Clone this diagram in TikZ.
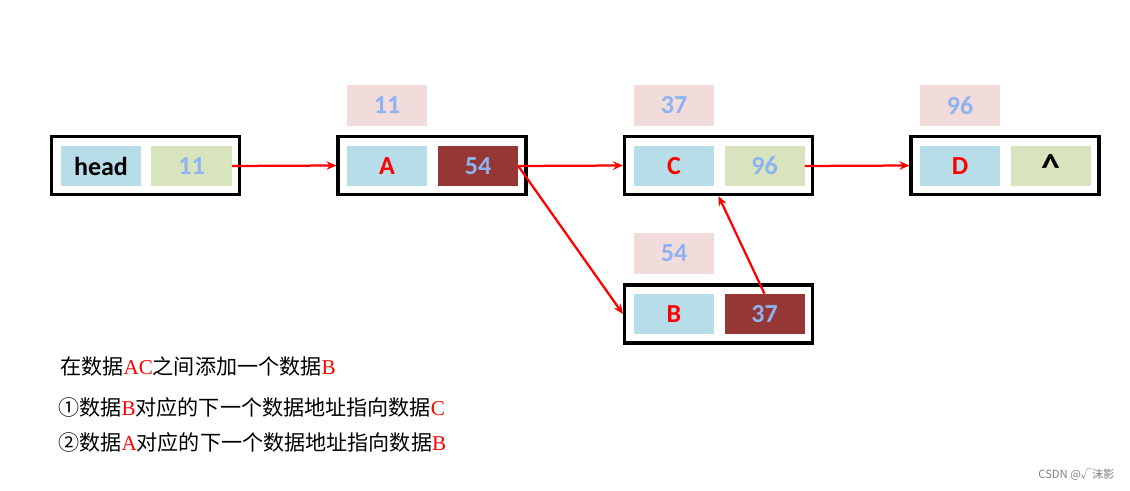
\documentclass[tikz,border=0pt]{standalone}
\usepackage{fontspec}
\setmainfont{Carlito}
\newfontfamily\cjk{Noto Sans CJK SC}
\newfontfamily\latinserif{Liberation Serif}
\usetikzlibrary{arrows.meta}

\definecolor{cellblue}{HTML}{B7DDE8}
\definecolor{cellgreen}{HTML}{D7E4BD}
\definecolor{celldark}{HTML}{953735}
\definecolor{cellpink}{HTML}{F2DCDB}
\definecolor{numblue}{HTML}{8DB3F2}

\begin{document}
\begin{tikzpicture}[x=0.025cm, y=-0.025cm,
    outer/.style={draw=black, line width=2.2pt, minimum width=4.7cm, minimum height=1.45cm, inner sep=0pt},
    cell/.style={minimum width=2cm, minimum height=1cm, inner sep=0pt,
        font=\fontsize{18.5}{20}\selectfont\bfseries},
    datacell/.style={cell, fill=cellblue, text=red},
    ptrcell/.style={cell, fill=cellgreen, text=numblue},
    newcell/.style={cell, fill=celldark, text=numblue},
    addr/.style={cell, fill=cellpink, text=numblue},
    link/.style={red, line width=1.6pt, -{Stealth[length=7pt, width=6pt]}},
    note/.style={anchor=west, inner sep=0pt, font=\cjk\fontsize{15}{17}\selectfont}]
    \useasboundingbox (0,0) rectangle (1130,491);

    % head
    \node[outer] (hbox) at (145.5,165.5) {};
    \node[cell, fill=cellblue] (hd) at (101,166) {head};
    \node[ptrcell] (h11) at (191.5,166) {11};

    % A
    \node[addr] (la) at (387,105.5) {11};
    \node[outer] (abox) at (432,165.5) {};
    \node[datacell] (da) at (387,166) {A};
    \node[newcell] (a54) at (478,166) {54};

    % C
    \node[addr] (lc) at (674,105.5) {37};
    \node[outer] (cbox) at (718.5,165.5) {};
    \node[datacell] (dc) at (674,166) {C};
    \node[ptrcell] (c96) at (764.5,166) {96};

    % D
    \node[addr] (ld) at (960,105.5) {96};
    \node[outer] (dbox) at (1005,165.5) {};
    \node[datacell] (dd) at (960,166) {D};
    \node[cell, fill=cellgreen] (dnil) at (1051,166) {};
    \node[anchor=base, inner sep=0pt, font=\fontsize{27}{27}\selectfont\bfseries] (nil) at (1051,181) {\textasciicircum};

    % B (new)
    \node[addr] (lb) at (674,253.5) {54};
    \node[outer] (bbox) at (718.5,314) {};
    \node[datacell] (db) at (674,314) {B};
    \node[newcell] (b37) at (764.5,314) {37};

    % links
    \draw[link] (h11.east) -- (abox.west);
    \draw[link] (a54.east) -- (cbox.west);
    \draw[link] (c96.east) -- (dbox.west);
    \draw[link] (a54.east) -- (bbox.west);
    \draw[link] (b37.north) -- (cbox.south);

    % notes
    \node[note] (n1) at (60,366) {在数据{\color{red}\latinserif AC}之间添加一个数据{\color{red}\latinserif B}};
    \node[note] (n2) at (58,407) {①数据{\color{red}\latinserif B}对应的下一个数据地址指向数据{\color{red}\latinserif C}};
    \node[note] (n3) at (58,442) {②数据{\color{red}\latinserif A}对应的下一个数据地址指向数据{\color{red}\latinserif B}};

    \node[anchor=east, inner sep=0pt, text=gray, font=\cjk\fontsize{8}{9}\selectfont] (mark) at (1115,475) {CSDN @√沫影};
\end{tikzpicture}
\end{document}
